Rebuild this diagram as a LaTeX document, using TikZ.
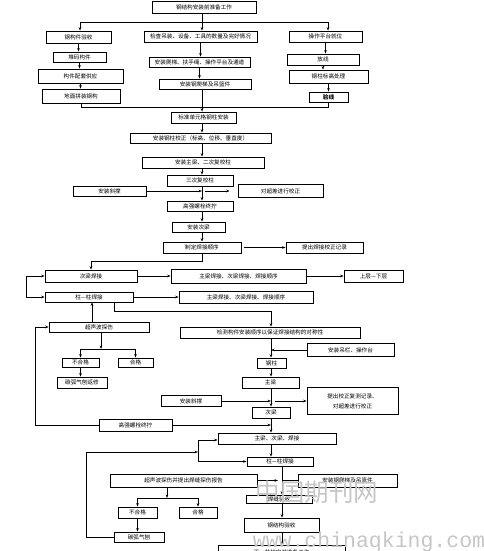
\documentclass[tikz,border=0pt]{standalone}
\usepackage{fontspec}
\newfontfamily\cjk{Noto Sans CJK SC}
\newfontfamily\wmfont{Liberation Mono}
\usepackage{tikz}
\usetikzlibrary{arrows.meta}
\tikzset{
  box/.style={rectangle, draw, line width=0.8pt, inner sep=0pt, align=center,
              font=\cjk\fontsize{5.6}{7}\selectfont},
  wh/.style 2 args={minimum width=#1pt, minimum height=#2pt},
  arrow/.style={-{Stealth[length=3.5pt,width=2.6pt]}, line width=0.7pt},
  link/.style={line width=0.7pt},
}

\begin{document}
\begin{tikzpicture}[x=1pt, y=-1pt]
  \clip (0,0) rectangle (484,551);
  % column x positions
  \coordinate (colL) at (80,0);
  \coordinate (colX) at (202,0);
  \coordinate (colR) at (328,0);
  \coordinate (colY) at (271,0);
  \coordinate (colZ) at (282,0);
  % preparation
  \node[box, wh={104}{12}] (prep) at (204,7) {钢结构安装前准备工作};
  \node[box, wh={65}{12}] (chkA) at (78.5,37) {钢构件验收};
  \node[box, wh={53}{10}] (stackA) at (79.5,57) {堆码构件};
  \node[box, wh={85}{14}] (supplyA) at (80.5,76) {构件配套供应};
  \node[box, wh={78}{14}] (assemA) at (81,96) {地面拼装钢构};
  \node[box, wh={113}{11}] (chkB) at (200.5,36.5) {检查吊装、设备、工具的数量及完好情况};
  \node[box, wh={101}{10}] (ladderB) at (199.5,62) {安装爬梯、扶手绳、操作平台及通道};
  \node[box, wh={92}{10}] (hangB) at (205,84) {安装钢爬梯及吊篮件};
  \node[box, wh={73}{11}] (platC) at (325.5,36.5) {操作平台就位};
  \node[box, wh={72}{11}] (lineC) at (323,59.5) {放线};
  \node[box, wh={79}{13}] (levelC) at (328.5,76.5) {钢柱标高处理};
  \node[box, wh={39}{10}] (verC) at (328.5,97) {\textbf{验线}};
  % column erection
  \node[box, wh={65}{11}] (colInst) at (203.5,117.5) {标准单元格钢柱安装};
  \node[box, wh={141}{10}] (colAdj) at (200.5,138) {安装钢柱校正（标高、位移、垂直度）};
  \node[box, wh={122}{11}] (mainBeam) at (203,162.5) {安装主梁、二次复校柱};
  \node[box, wh={66}{11}] (thirdAdj) at (200,180.5) {三次复校柱};
  \node[box, wh={73}{10}] (brace) at (109.5,191) {安装斜撑};
  \node[box, wh={85}{13}] (fixDev) at (280.5,191) {对超差进行校正};
  \node[box, wh={66}{10}] (bolt) at (200,206) {高强螺栓终拧};
  \node[box, wh={53}{10}] (secBeam) at (198.5,227) {安装次梁};
  \node[box, wh={78}{11}] (weldSeq) at (202,247.5) {制定焊接顺序};
  \node[box, wh={77}{11}] (weldRec) at (324.5,247.5) {提出焊接校正记录};
  % welding
  \node[box, wh={92}{12}] (secWeld) at (91,276) {次梁焊接};
  \node[box, wh={135}{14}] (weldOrd) at (238.5,276) {主梁焊接、次梁焊接、焊接顺序};
  \node[box, wh={59}{12}] (upDown) at (373.5,276) {上层—下层};
  \node[box, wh={88}{10}] (colWeld) at (89,297) {柱—柱焊接};
  \node[box, wh={134}{12}] (weldOrdB) at (246,297) {主梁焊接、次梁焊接、焊接顺序};
  \node[box, wh={100}{10}] (ut) at (99,327) {超声波探伤};
  \node[box, wh={180}{11}] (chkOrder) at (270,332.5) {检测构件安装顺序以保证焊接结构的对称性};
  \node[box, wh={37}{9}] (fail) at (80.5,362.5) {不合格};
  \node[box, wh={35}{9}] (pass) at (135.5,362.5) {合格};
  \node[box, wh={50}{11}] (gouge) at (82,382.5) {碳弧气刨返修};
  % next tier
  \node[box, wh={87}{13}] (rail) at (350.5,350) {安装吊栏、操作台};
  \node[box, wh={29}{10}] (col) at (271.5,363) {钢柱};
  \node[box, wh={57}{11}] (mb) at (270.5,382.5) {主梁};
  \node[box, wh={91}{27}, font=\cjk\fontsize{5.6}{10}\selectfont] (fixRec) at (352.5,401)
    {提出校正复测记录、\\对超差进行校正};
  \node[box, wh={60}{11}] (braceB) at (191,401) {安装斜撑};
  \node[box, wh={38}{11}] (sb) at (271,412.5) {次梁};
  \node[box, wh={73}{12}] (boltB) at (135.5,425) {高强螺栓终拧};
  \node[box, wh={118}{11}] (mainWeld) at (277,438.5) {主梁、次梁、焊接};
  \node[box, wh={66}{9}] (colWeldB) at (280,461.5) {柱—柱焊接};
  \node[box, wh={147}{13}] (utRep) at (183.5,480.5) {超声波探伤并提出焊缝探伤报告};
  \node[box, wh={99}{13}] (ladderC) at (347.5,480.5) {安装钢爬梯及吊篮件};
  \node[box, wh={39}{11}] (failB) at (137.5,512.5) {不合格};
  \node[box, wh={38}{11}] (passB) at (198,512.5) {合格};
  \node[box, wh={50}{10}] (gougeB) at (139,537) {碳弧气刨};
  \node[box, wh={66}{8}] (weldAcc) at (279,499) {焊缝验收};
  \node[box, wh={75}{14}] (steelAcc) at (281.5,525) {钢结构验收};
  \node[box, wh={127}{14}] (nextCol) at (281.5,552) {下一节柱安装准备工作};

  % top fan-out and merge
  \coordinate (bus) at (202,22);
  \draw[link] (prep.south -| colX) -- (bus);
  \draw[arrow] (bus) -| (chkA.north -| colL);
  \draw[arrow] (bus) -| (platC.north -| colR);
  \draw[arrow] (bus) -- (chkB.north -| colX);
  \foreach \a/\b in {chkA/stackA, stackA/supplyA, supplyA/assemA, chkB/ladderB,
                     ladderB/hangB, platC/lineC, lineC/levelC, levelC/verC}{
    \draw[arrow] (\a.south) -- (\a.south |- \b.north);
  }
  \coordinate (merge) at (202,107);
  \draw[link] (assemA.south) |- (merge);
  \draw[link] (verC.south) |- (merge);
  \draw[arrow] (hangB.south -| colX) -- (colInst.north -| colX);
  % centre column
  \foreach \a/\b in {colInst/colAdj, colAdj/mainBeam, mainBeam/thirdAdj,
                     thirdAdj/bolt, bolt/secBeam, secBeam/weldSeq}{
    \draw[arrow] (\a.south -| colX) -- (\b.north -| colX);
  }
  \draw[arrow] (brace.east) -- (brace.east -| colX);
  \draw[arrow] ([xshift=3pt]brace.east -| colX) -- ([xshift=-8pt]fixDev.west);
  \draw[arrow] ([xshift=3pt]weldSeq.east) -- (weldRec.west);
  \draw[arrow] (weldSeq.south -| colX) -- ++(0,8) -| (secWeld.north);
  % welding rows
  \draw[arrow] (secWeld) -- (weldOrd);
  \draw[arrow] (weldOrd) -- (upDown);
  \draw[arrow] (colWeld) -- (weldOrdB);
  \coordinate (brkA) at (26,276);
  \coordinate (brkB) at (26,297);
  \draw[arrow] (brkA) -- (secWeld.west);
  \draw[link] (brkA) -- (brkB);
  \draw[arrow] (brkB) -- (colWeld.west);
  \draw[arrow] ([xshift=-7pt]ut.north) -- ([xshift=-7pt]ut.north |- colWeld.south);
  \draw[arrow] ([xshift=25pt]colWeld.south) -- ++(0,9) -| (chkOrder.north -| colY);
  % inspection branch
  \coordinate (forkA) at (101,349);
  \draw[arrow] (ut.south -| forkA) -- (forkA);
  \draw[arrow] (forkA) -| (fail.north);
  \draw[arrow] (forkA) -| (pass.north);
  \draw[arrow] (fail.south) -- (fail.south |- gouge.north);
  \draw[arrow] (boltB.west) -- ++(-63,0) |- (ut.west);
  % lower column
  \draw[arrow] (chkOrder.south -| colY) -- (col.north -| colY);
  \draw[arrow] (rail.west) -- (rail.west -| colY);
  \draw[arrow] (col.south -| colY) -- (mb.north -| colY);
  \draw[arrow] (mb.south -| colY) -- (sb.north -| colY);
  \draw[arrow] (braceB.east) -- (braceB.east -| colY);
  \draw[arrow] ([xshift=4pt]braceB.east -| colY) -- (fixRec.west);
  \draw[arrow] (sb.south -| colY) -- (mainWeld.north -| colY);
  \draw[arrow] (boltB.east) -- (boltB.east -| colY);
  \draw[arrow] (mainWeld.south -| colY) -- (colWeldB.north -| colY);
  \coordinate (brkC) at (198,440);
  \coordinate (brkD) at (198,461.5);
  \coordinate (brkM) at (198,452);
  \draw[arrow] (brkC) -- (brkC -| mainWeld.west);
  \draw[link] (brkC) -- (brkD);
  \draw[arrow] (brkD) -- (colWeldB.west);
  \draw[arrow] (gougeB.west) -- ++(-27,0) |- (brkM);
  % acceptance
  \draw[arrow] (colWeldB.south -| colZ) -- (weldAcc.north -| colZ);
  \draw[arrow] (utRep.east) -- ([xshift=-4pt]utRep.east -| colZ);
  \draw[link] (ladderC.west) -- (ladderC.west -| colZ);
  \draw[arrow] (weldAcc.south -| colZ) -- (steelAcc.north -| colZ);
  \draw[arrow] (steelAcc.south -| colZ) -- (nextCol.north -| colZ);
  \coordinate (forkB) at (167,498);
  \draw[arrow] (utRep.south -| forkB) -- (forkB);
  \draw[arrow] (forkB) -| (failB.north);
  \draw[arrow] (forkB) -| (passB.north);
  \draw[arrow] (failB.south) -- (failB.south |- gougeB.north);
  % watermark
  \node[text=gray!45, font=\cjk\fontsize{24.5}{25}\selectfont] (wmA) at (317,492) {中国期刊网};
  \node[text=gray!45, anchor=base, font=\wmfont\fontsize{21.5}{22}\selectfont] (wmB) at (369,547) {www.chinaqking.com};
\end{tikzpicture}
\end{document}
